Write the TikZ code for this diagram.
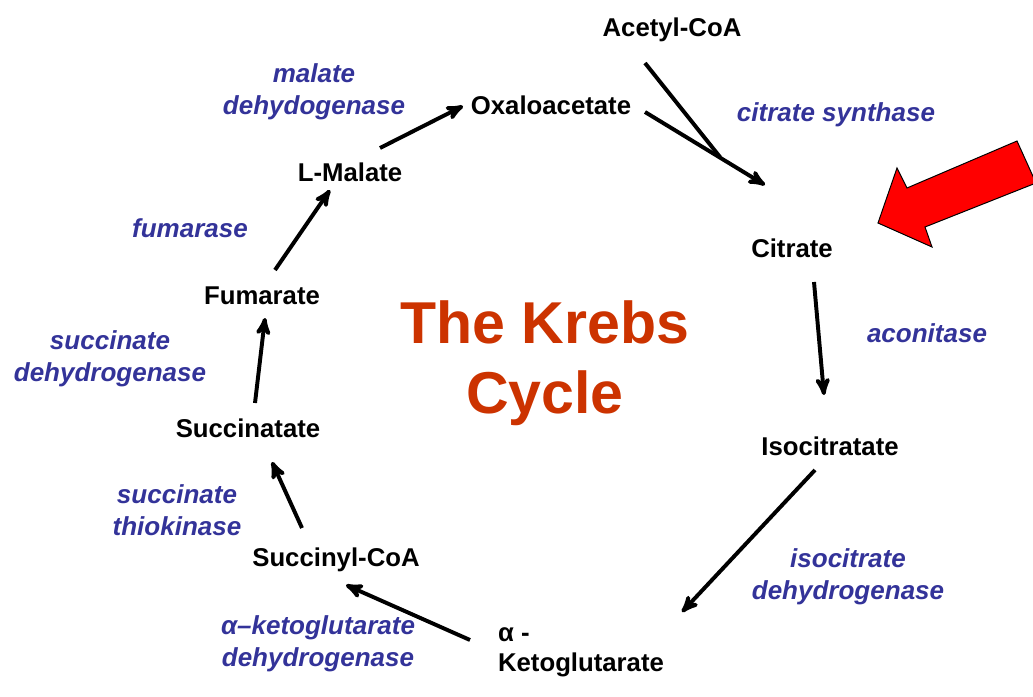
\documentclass[tikz,border=0pt]{standalone}
\usepackage{fontspec}
\setmainfont{Liberation Sans}
\usepackage{tikz}
\usetikzlibrary{arrows}
\definecolor{enzblue}{RGB}{51,51,153}
\definecolor{titlered}{RGB}{204,51,0}
\begin{document}
\begin{tikzpicture}[x=0.025cm,y=-0.025cm,->,>=stealth',line width=2.8pt,
				mol node/.style={inner sep=0pt,align=center,font=\bfseries\fontsize{18.3}{21.5}\selectfont},
				enz node/.style={inner sep=0pt,align=center,text=enzblue,font=\bfseries\itshape\fontsize{18.5}{22.8}\selectfont}]
				
				\useasboundingbox (0,0) rectangle (1033,697);
				
				% molecules
				\node[mol node] (1) at (672,30) {Acetyl-CoA};
				\node[mol node] (2) at (551,105) {Oxaloacetate};
				\node[mol node] (3) at (792,248) {Citrate};
				\node[mol node] (4) at (830,446) {Isocitratate};
				\node[mol node,align=left] (5) at (581,652) {α -\\Ketoglutarate};
				\node[mol node] (6) at (336,560) {Succinyl-CoA};
				\node[mol node] (7) at (248,428) {Succinatate};
				\node[mol node] (8) at (262,296) {Fumarate};
				\node[mol node] (9) at (350,172) {L-Malate};
				
				% enzymes
				\node[enz node] (e1) at (836,115) {citrate synthase};
				\node[enz node] (e2) at (927,333) {aconitase};
				\node[enz node] (e3) at (848,577) {isocitrate\\dehydrogenase};
				\node[enz node] (e4) at (318,644) {α–ketoglutarate\\dehydrogenase};
				\node[enz node] (e5) at (177,510) {succinate\\thiokinase};
				\node[enz node] (e6) at (110,359) {succinate\\dehydrogenase};
				\node[enz node] (e7) at (190,228) {fumarase};
				\node[enz node] (e8) at (314,92) {malate\\dehydogenase};
				
				\node[align=center,inner sep=0pt,text=titlered,font=\bfseries\fontsize{42}{50}\selectfont] (title) at (545,363) {The Krebs\\Cycle};
				
				% red pointer
				\draw[-,line width=0.7pt,fill=red] (878,223) -- (897,168) -- (907,188) -- (1017,141)
				-- (1036,183) -- (925,227) -- (932,247) -- cycle;
				
				\path[every edge/.style={draw,->,line width=2.8pt}]
				([shift={(30,-24)}]9.center) edge ([shift={(-88,1)}]2.center)
				([shift={(94,7)}]2.center) edge ([shift={(-27,-63)}]3.center)
				([shift={(-27,33)}]1.center) edge[-] ([shift={(-72,-91)}]3.center)
				([shift={(22,34)}]3.center) edge ([shift={(-6,-51)}]4.center)
				([shift={(-15,24)}]4.center) edge ([shift={(101,-40)}]5.center)
				([shift={(-111,-12)}]5.center) edge ([shift={(10,25)}]6.center)
				([shift={(-34,-32)}]6.center) edge ([shift={(24,34)}]7.center)
				([shift={(7,-25)}]7.center) edge ([shift={(3,22)}]8.center)
				([shift={(13,-26)}]8.center) edge ([shift={(-20,18)}]9.center);
				
				\end{tikzpicture}
\end{document}
